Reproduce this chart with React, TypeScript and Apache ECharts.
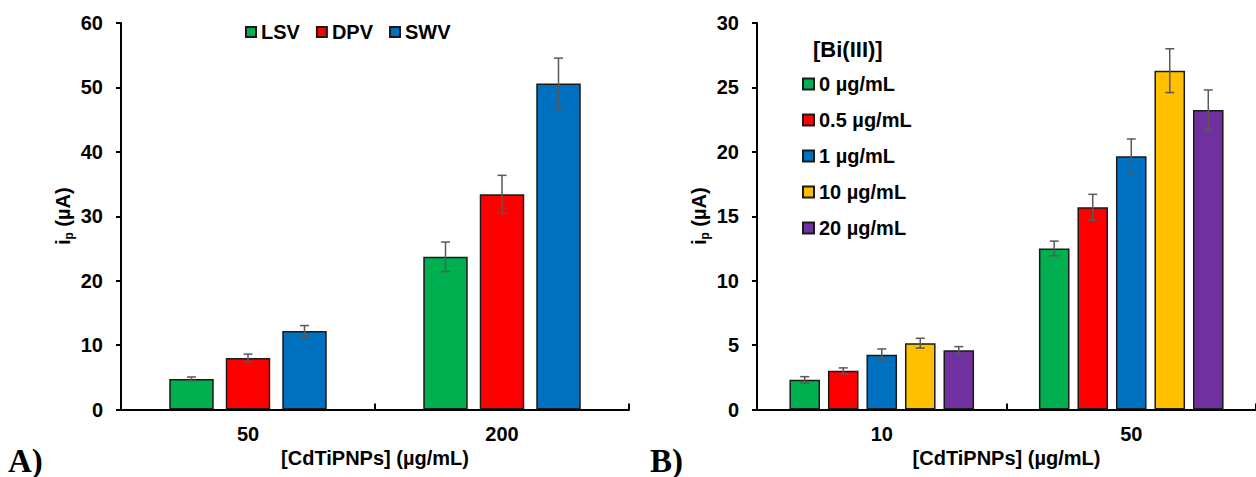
import React, { useEffect, useRef } from 'react';
import * as echarts from 'echarts';

const FONT = '"Liberation Sans", Arial, sans-serif';

// ---------- Panel A ----------
const leftCategories = ['50', '200'];
const leftNames = ['LSV', 'DPV', 'SWV'];
const lsvValues = [4.75, 23.7];
const lsvErrors = [0.3, 2.3];
const dpvValues = [8.0, 33.4];
const dpvErrors = [0.6, 2.95];
const swvValues = [12.2, 50.6];
const swvErrors = [0.83, 3.95];
const leftColors = ['#00B050', '#FF0000', '#0070C0'];

// ---------- Panel B ----------
const rightCategories = ['10', '50'];
const rightNames = ['0 µg/mL', '0.5 µg/mL', '1 µg/mL', '10 µg/mL', '20 µg/mL'];
const bi0Values = [2.3, 12.5];
const bi0Errors = [0.25, 0.57];
const bi05Values = [3.0, 15.7];
const bi05Errors = [0.23, 1.0];
const bi1Values = [4.25, 19.65];
const bi1Errors = [0.45, 1.35];
const bi10Values = [5.15, 26.3];
const bi10Errors = [0.38, 1.7];
const bi20Values = [4.6, 23.25];
const bi20Errors = [0.28, 1.55];
const rightColors = ['#00B050', '#FF0000', '#0070C0', '#FFC000', '#7030A0'];

const leftTicks = { min: 0, max: 60, interval: 10 };
const rightTicks = { min: 0, max: 30, interval: 5 };

const LEFT_CAT_GAP = 0.38;
const LEFT_BAR_GAP = 0.27;
const RIGHT_CAT_GAP = 0.26;
const RIGHT_BAR_GAP = 0.26;

function buildErrData(values: number[][], errors: number[][]) {
  const out: number[][] = [];
  values.forEach((vals, si) => {
    vals.forEach((v, ci) => {
      out.push([ci, v - errors[si][ci], v + errors[si][ci], si]);
    });
  });
  return out;
}

function makeErrRender(n: number, catGap: number, barGap: number) {
  return (params: any, api: any) => {
    const cat = api.value(0);
    const lo = api.value(1);
    const hi = api.value(2);
    const si = api.value(3);
    const pLo = api.coord([cat, lo]);
    const pHi = api.coord([cat, hi]);
    const catW = api.size([1, 0])[0];
    const band = catW * (1 - catGap);
    const bw = band / (n + (n - 1) * barGap);
    const x = pLo[0] - band / 2 + si * bw * (1 + barGap) + bw / 2;
    const hw = 4.5;
    const style = { stroke: '#595959', lineWidth: 1.5 };
    return {
      type: 'group',
      children: [
        { type: 'line', shape: { x1: x, y1: pLo[1], x2: x, y2: pHi[1] }, style },
        { type: 'line', shape: { x1: x - hw, y1: pHi[1], x2: x + hw, y2: pHi[1] }, style },
        { type: 'line', shape: { x1: x - hw, y1: pLo[1], x2: x + hw, y2: pLo[1] }, style },
      ],
    };
  };
}

const labelStyle = { fontSize: 20, fontWeight: 'bold' as const, color: '#000', fontFamily: FONT };
const axisLineStyle = { color: '#000', width: 2 };

function xAxisCfg(gridIndex: number, data: string[]) {
  return {
    gridIndex,
    type: 'category',
    data,
    axisLine: { show: true, lineStyle: axisLineStyle },
    axisTick: { show: true, inside: true, length: 6, lineStyle: { color: '#000', width: 2 } },
    axisLabel: { ...labelStyle, margin: 14 },
    name: '[CdTiPNPs] (µg/mL)',
    nameLocation: 'middle',
    nameGap: 36,
    nameTextStyle: { ...labelStyle },
    splitLine: { show: false },
  };
}

function yAxisCfg(gridIndex: number, ticks: { min: number; max: number; interval: number }) {
  return {
    gridIndex,
    type: 'value',
    min: ticks.min,
    max: ticks.max,
    interval: ticks.interval,
    axisLine: { show: true, lineStyle: axisLineStyle },
    axisTick: { show: true, inside: false, length: 5, lineStyle: { color: '#000', width: 2 } },
    axisLabel: { ...labelStyle, margin: 18 },
    splitLine: { show: false },
    name: '{m|i}{s|p}{m| (µA)}',
    nameLocation: 'middle',
    nameGap: 46,
    nameTextStyle: {
      ...labelStyle,
      rich: {
        m: { fontSize: 20, fontWeight: 'bold', color: '#000', fontFamily: FONT, lineHeight: 24 },
        s: { fontSize: 12, fontWeight: 'bold', color: '#000', fontFamily: FONT, lineHeight: 12, verticalAlign: 'bottom' },
      },
    },
  };
}

function barSeries(name: string, data: number[], color: string, axis: number, catGap: number, barGap: number) {
  return {
    type: 'bar',
    name,
    xAxisIndex: axis,
    yAxisIndex: axis,
    data,
    barCategoryGap: `${catGap * 100}%`,
    barGap: `${barGap * 100}%`,
    itemStyle: { color, borderColor: '#1a1a1a', borderWidth: 1.5 },
    emphasis: { disabled: true },
    z: 2,
  };
}

export default function App() {
  const ref = useRef<HTMLDivElement>(null);

  useEffect(() => {
    if (!ref.current) return;
    const chart = echarts.init(ref.current, null, { renderer: 'svg' });

    const leftVals = [lsvValues, dpvValues, swvValues];
    const leftErrs = [lsvErrors, dpvErrors, swvErrors];
    const rightVals = [bi0Values, bi05Values, bi1Values, bi10Values, bi20Values];
    const rightErrs = [bi0Errors, bi05Errors, bi1Errors, bi10Errors, bi20Errors];

    const series: any[] = [];
    leftNames.forEach((n, i) =>
      series.push(barSeries(n, leftVals[i], leftColors[i], 0, LEFT_CAT_GAP, LEFT_BAR_GAP))
    );
    rightNames.forEach((n, i) =>
      series.push(barSeries(n, rightVals[i], rightColors[i], 1, RIGHT_CAT_GAP, RIGHT_BAR_GAP))
    );
    series.push({
      type: 'custom',
      xAxisIndex: 0,
      yAxisIndex: 0,
      renderItem: makeErrRender(leftNames.length, LEFT_CAT_GAP, LEFT_BAR_GAP),
      data: buildErrData(leftVals, leftErrs),
      encode: { x: 0, y: [1, 2] },
      z: 5,
      silent: true,
    });
    series.push({
      type: 'custom',
      xAxisIndex: 1,
      yAxisIndex: 1,
      renderItem: makeErrRender(rightNames.length, RIGHT_CAT_GAP, RIGHT_BAR_GAP),
      data: buildErrData(rightVals, rightErrs),
      encode: { x: 0, y: [1, 2] },
      z: 5,
      silent: true,
    });

    chart.setOption({
      animation: false,
      backgroundColor: '#ffffff',
      textStyle: { fontFamily: FONT },
      grid: [
        { left: 121, top: 23, width: 508, height: 386.5 },
        { left: 757, top: 23, width: 508, height: 386.5 },
      ],
      xAxis: [xAxisCfg(0, leftCategories), xAxisCfg(1, rightCategories)],
      yAxis: [yAxisCfg(0, leftTicks), yAxisCfg(1, rightTicks)],
      legend: [
        {
          data: leftNames,
          orient: 'horizontal',
          left: 245,
          top: 22,
          padding: 0,
          icon: 'rect',
          itemWidth: 10,
          itemHeight: 10,
          itemGap: 16,
          selectedMode: false,
          textStyle: { ...labelStyle, lineHeight: 20 },
        },
        {
          data: rightNames,
          orient: 'vertical',
          left: 802,
          top: 73,
          padding: 0,
          icon: 'rect',
          itemWidth: 11,
          itemHeight: 11,
          itemGap: 14,
          selectedMode: false,
          textStyle: { ...labelStyle, lineHeight: 22 },
        },
      ],
      graphic: [
        {
          type: 'text',
          left: 8,
          top: 444,
          style: { text: 'A)', font: 'bold 33px "Liberation Serif", "Times New Roman", serif', fill: '#000' },
        },
        {
          type: 'text',
          left: 650,
          top: 444,
          style: { text: 'B)', font: 'bold 33px "Liberation Serif", "Times New Roman", serif', fill: '#000' },
        },
        {
          type: 'text',
          left: 813,
          top: 38,
          style: { text: '[Bi(III)]', font: `bold 22px ${FONT}`, fill: '#000' },
        },
      ],
      series,
    });

    return () => chart.dispose();
  }, []);

  return (
    <div
      ref={ref}
      style={{ position: 'fixed', left: 0, top: 0, width: 1256, height: 477, background: '#fff' }}
    />
  );
}
